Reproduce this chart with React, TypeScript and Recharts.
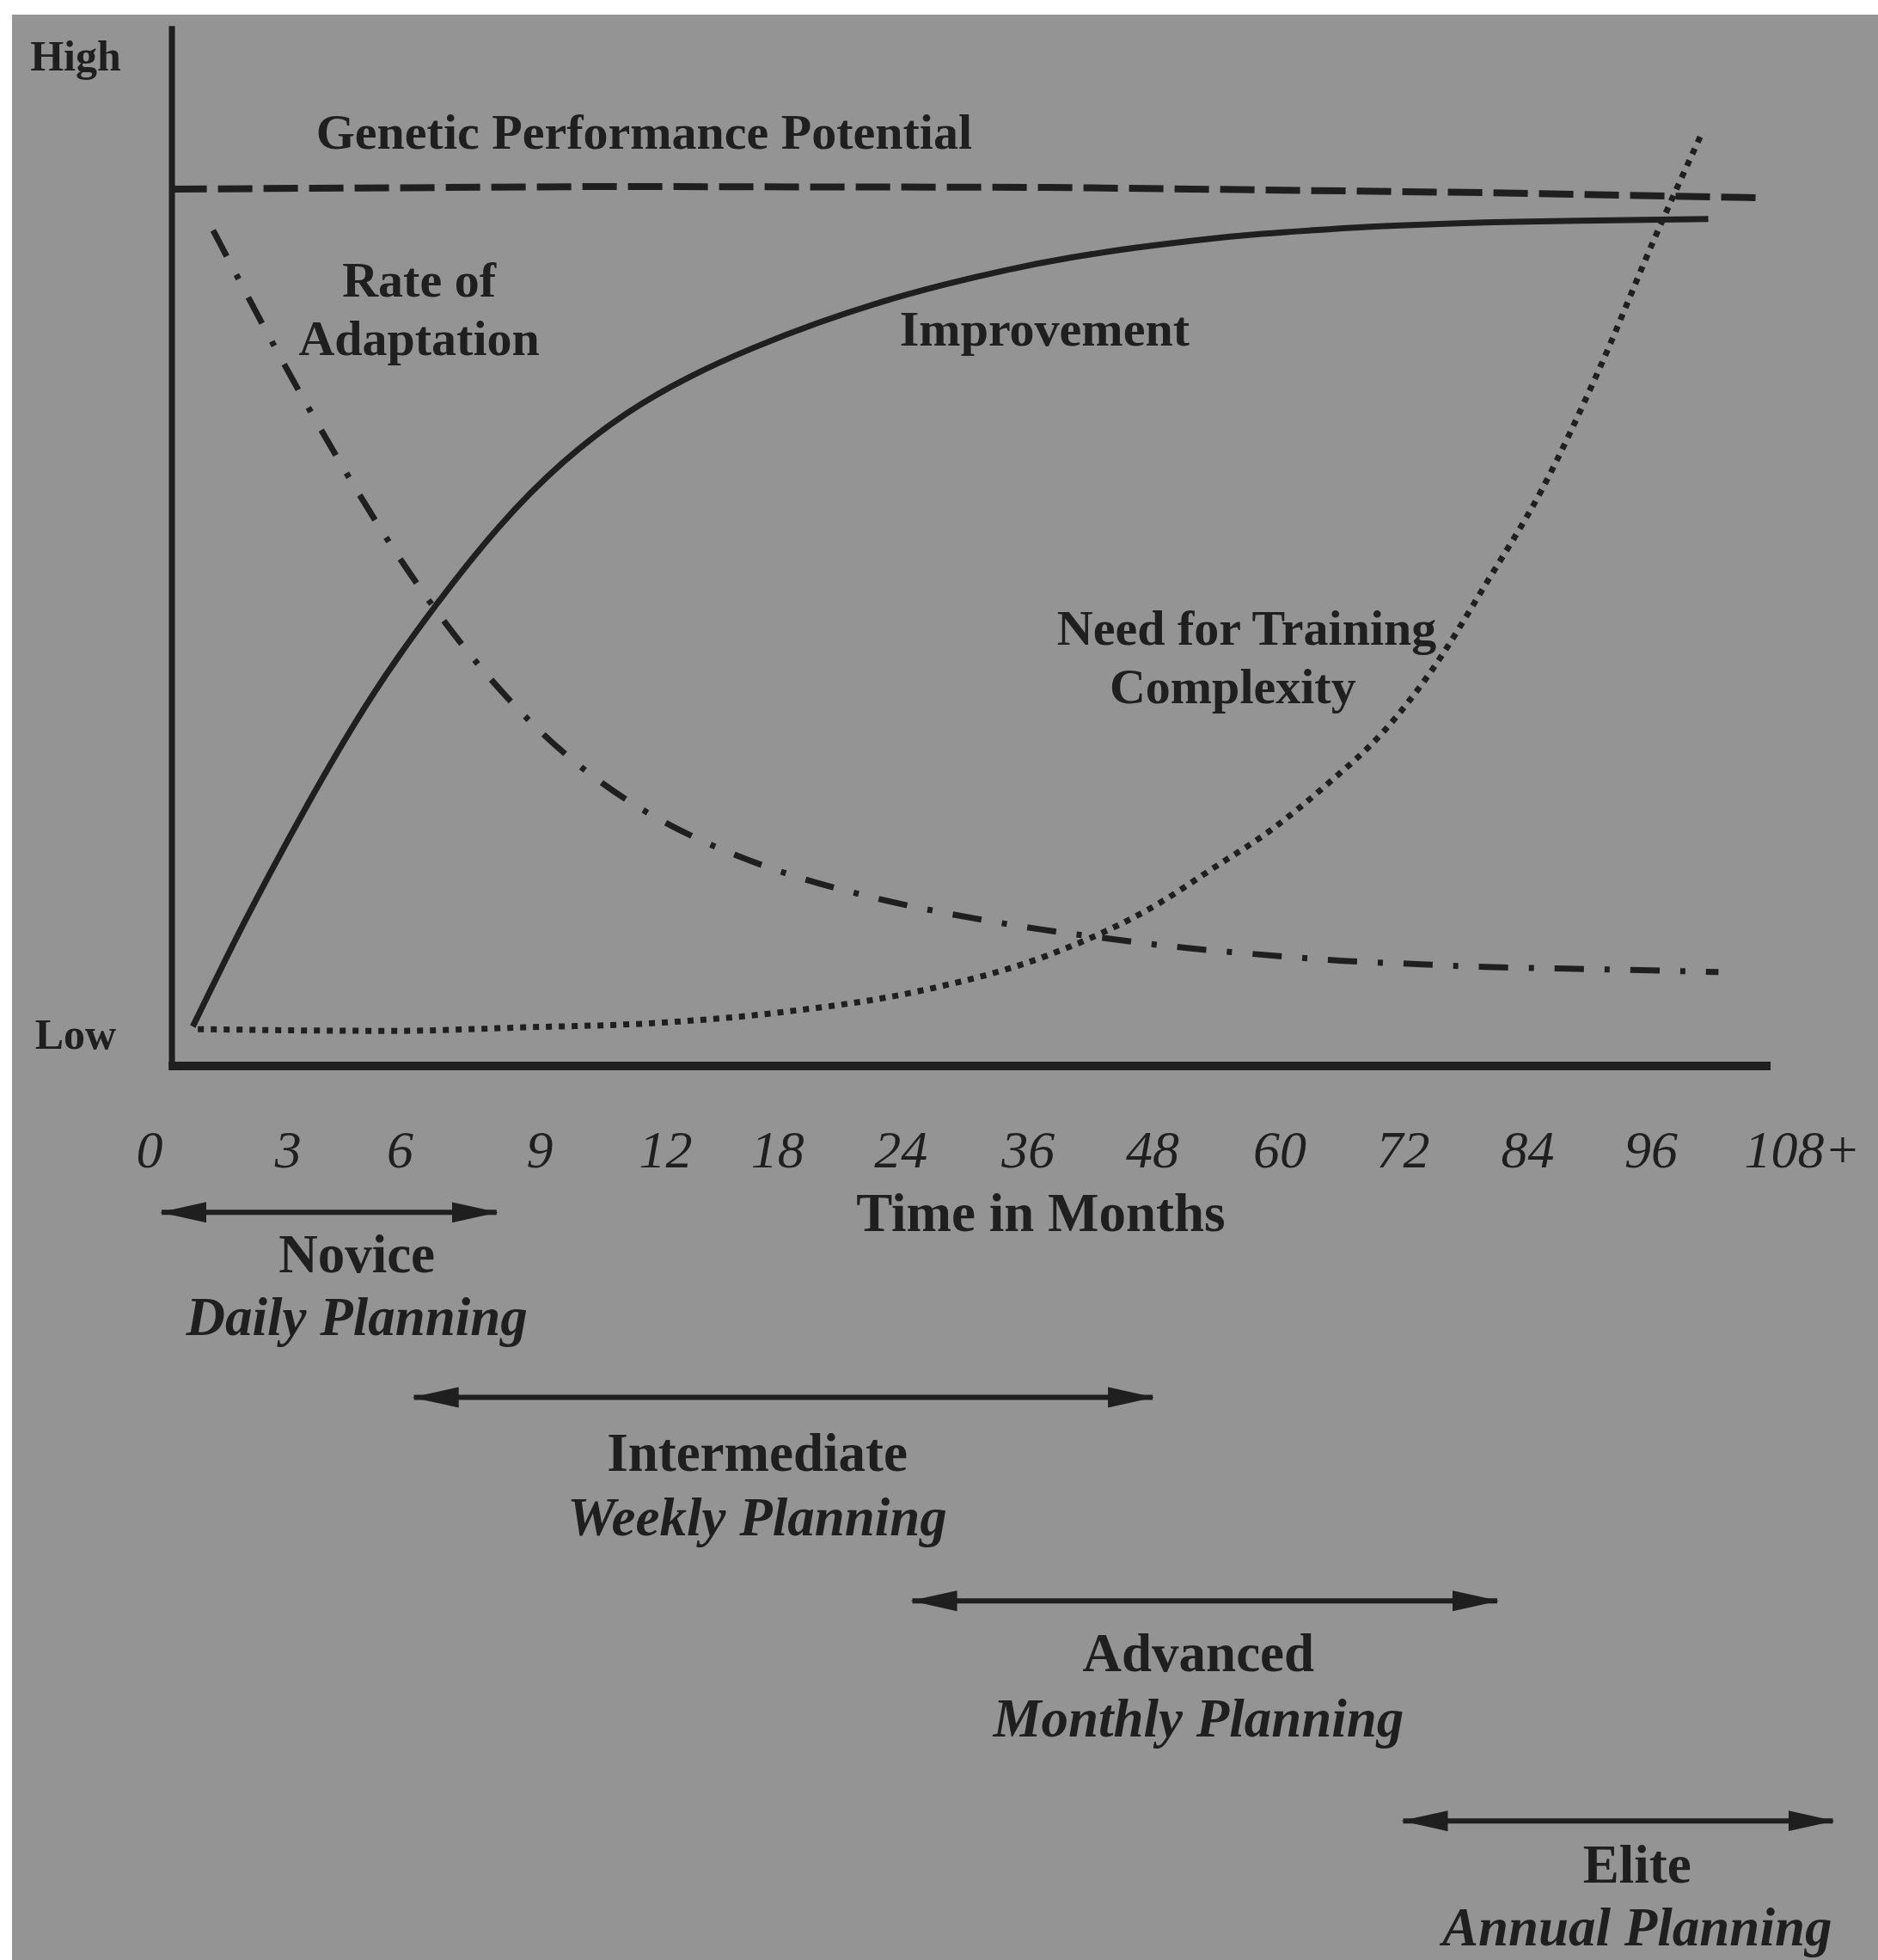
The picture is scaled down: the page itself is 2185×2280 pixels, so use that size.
import React from "react";
import {
  ComposedChart,
  Line,
  XAxis,
  YAxis,
  ReferenceLine,
  ReferenceDot,
} from "recharts";

const INK = "#1f1f1f";
const PAPER = "#949494";
const SERIF = '"Liberation Serif", "Times New Roman", serif';

// x = position along the month axis (tick index space, 0 = "0" ... 13 = "108+")
// y = performance level (0 = axis, 100 = genetic potential)
const monthLabels = ["0", "3", "6", "9", "12", "18", "24", "36", "48", "60", "72", "84", "96", "108+"];
const monthTicks = [0, 1.09, 1.97, 3.07, 4.06, 4.94, 5.91, 6.91, 7.89, 8.89, 9.86, 10.84, 11.81, 13];

const levelLabels = ["Low", "High"];
const levelTicks = [3.6, 115.2];

const potential = [
  { x: 0.18, y: 100 },
  { x: 3.56, y: 100.3 },
  { x: 7.07, y: 100.2 },
  { x: 10.52, y: 99.6 },
  { x: 12.7, y: 99.0 },
];

const improvement = [
  { x: 0.34, y: 4.5 },
  { x: 0.75, y: 16.5 },
  { x: 1.25, y: 30.0 },
  { x: 1.75, y: 42.2 },
  { x: 2.25, y: 52.5 },
  { x: 2.75, y: 61.5 },
  { x: 3.25, y: 68.8 },
  { x: 3.75, y: 74.4 },
  { x: 4.25, y: 78.6 },
  { x: 4.75, y: 81.9 },
  { x: 5.25, y: 84.7 },
  { x: 5.75, y: 87.1 },
  { x: 6.25, y: 89.1 },
  { x: 6.75, y: 90.8 },
  { x: 7.25, y: 92.2 },
  { x: 7.75, y: 93.3 },
  { x: 8.25, y: 94.2 },
  { x: 8.75, y: 94.9 },
  { x: 9.25, y: 95.4 },
  { x: 9.75, y: 95.8 },
  { x: 10.5, y: 96.2 },
  { x: 11.25, y: 96.4 },
  { x: 12.26, y: 96.6 },
];

const adaptation = [
  { x: 0.5, y: 95.3 },
  { x: 1.0, y: 81.6 },
  { x: 1.5, y: 68.8 },
  { x: 2.0, y: 57.2 },
  { x: 2.5, y: 47.3 },
  { x: 3.0, y: 39.2 },
  { x: 3.5, y: 32.9 },
  { x: 4.0, y: 28.2 },
  { x: 4.5, y: 24.7 },
  { x: 5.0, y: 22.0 },
  { x: 5.5, y: 19.9 },
  { x: 6.0, y: 18.2 },
  { x: 6.5, y: 16.8 },
  { x: 7.0, y: 15.6 },
  { x: 7.5, y: 14.6 },
  { x: 8.0, y: 13.7 },
  { x: 8.5, y: 13.0 },
  { x: 9.0, y: 12.4 },
  { x: 9.5, y: 11.9 },
  { x: 10.0, y: 11.6 },
  { x: 10.5, y: 11.3 },
  { x: 11.5, y: 11.0 },
  { x: 12.34, y: 10.7 },
];

const complexity = [
  { x: 0.38, y: 4.2 },
  { x: 1.91, y: 4.0 },
  { x: 2.94, y: 4.4 },
  { x: 3.98, y: 4.9 },
  { x: 5.01, y: 6.2 },
  { x: 6.04, y: 8.5 },
  { x: 7.08, y: 12.7 },
  { x: 7.91, y: 18.3 },
  { x: 8.36, y: 22.5 },
  { x: 8.81, y: 26.8 },
  { x: 9.26, y: 32.1 },
  { x: 9.71, y: 38.2 },
  { x: 10.07, y: 44.8 },
  { x: 10.52, y: 55.2 },
  { x: 10.95, y: 65.7 },
  { x: 11.4, y: 79.4 },
  { x: 11.85, y: 94.8 },
  { x: 12.21, y: 106.4 },
];

const curveLabels = [
  { text: "Genetic Performance Potential", x: 3.89, y: 104.6 },
  { text: "Rate of", x: 2.12, y: 87.75 },
  { text: "Adaptation", x: 2.12, y: 81.1 },
  { text: "Improvement", x: 7.04, y: 82.2 },
  { text: "Need for Training", x: 8.63, y: 48.0 },
  { text: "Complexity", x: 8.52, y: 41.4 },
];

const phases = [
  { name: "Novice", plan: "Daily Planning", from: 0.095, to: 2.73, arrowY: -16.7, labelX: 1.63, nameY: -23.5, planY: -30.7 },
  { name: "Intermediate", plan: "Weekly Planning", from: 2.08, to: 7.89, arrowY: -37.8, labelX: 4.78, nameY: -46.2, planY: -53.5 },
  { name: "Advanced", plan: "Monthly Planning", from: 6.0, to: 10.6, arrowY: -61.0, labelX: 8.25, nameY: -69.0, planY: -76.5 },
  { name: "Elite", plan: "Annual Planning", from: 9.86, to: 13.24, arrowY: -86.1, labelX: 11.7, nameY: -93.1, planY: -100.3 },
];

const axisTitle = { text: "Time in Months", x: 7.01, y: -18.8 };

const MonthTick = (props: any) => {
  const { x, y, payload } = props;
  const i = monthTicks.indexOf(payload.value);
  return (
    <text x={x} y={y} textAnchor="middle" fontFamily={SERIF} fontStyle="italic" fontSize={62} fill={INK}>
      {monthLabels[i]}
    </text>
  );
};

const LevelTick = (props: any) => {
  const { x, y, payload } = props;
  const i = levelTicks.indexOf(payload.value);
  return (
    <text x={x} y={y} dy={17} textAnchor="middle" fontFamily={SERIF} fontWeight="bold" fontSize={50} fill={INK}>
      {levelLabels[i]}
    </text>
  );
};

function textAt(key: string, x: number, y: number, text: string, size: number, italic = false) {
  return (
    <ReferenceDot
      key={key}
      x={x}
      y={y}
      r={0}
      ifOverflow="visible"
      shape={(p: any) => (
        <text
          x={p.cx}
          y={p.cy}
          textAnchor="middle"
          fontFamily={SERIF}
          fontWeight="bold"
          fontStyle={italic ? "italic" : "normal"}
          fontSize={size}
          fill={INK}
        >
          {text}
        </text>
      )}
    />
  );
}

export default function App() {
  return (
    <div style={{ position: "absolute", left: 0, top: 0, width: 2185, height: 2280, background: "#fff", overflow: "hidden" }}>
      <div style={{ position: "absolute", left: 14, top: 17, right: 0, bottom: 0, background: PAPER }} />
      <svg width={0} height={0} style={{ position: "absolute" }}>
        <defs>
          <marker
            id="arrowHead"
            markerUnits="userSpaceOnUse"
            markerWidth={54}
            markerHeight={26}
            refX={52}
            refY={13}
            orient="auto-start-reverse"
          >
            <path d="M0,1 L54,13 L0,25 Z" fill={INK} />
          </marker>
        </defs>
      </svg>
      <ComposedChart
        width={2185}
        height={2280}
        margin={{ top: 16, right: 88, bottom: 0, left: 0 }}
        style={{ position: "absolute", left: 0, top: 0 }}
      >
        <XAxis
          type="number"
          dataKey="x"
          domain={[0, 13]}
          ticks={monthTicks}
          interval={0}
          axisLine={false}
          tickLine={false}
          tickSize={0}
          tickMargin={118}
          height={1040}
          tick={<MonthTick />}
        />
        <YAxis
          type="number"
          dataKey="y"
          domain={[0, 120]}
          ticks={levelTicks}
          interval={0}
          axisLine={false}
          tickLine={false}
          tickSize={0}
          tickMargin={86}
          width={174}
          tick={<LevelTick />}
        />

        {/* axes drawn as in the figure */}
        <ReferenceLine
          segment={[{ x: 0.176, y: 0 }, { x: 0.176, y: 118.6 }]}
          stroke={INK}
          strokeWidth={7}
          ifOverflow="visible"
        />
        <ReferenceLine
          segment={[{ x: 0.15, y: 0 }, { x: 12.75, y: 0 }]}
          stroke={INK}
          strokeWidth={10}
          ifOverflow="visible"
        />

        <Line
          data={potential}
          dataKey="y"
          type="linear"
          stroke={INK}
          strokeWidth={8}
          strokeDasharray="40 13"
          dot={false}
          activeDot={false}
          isAnimationActive={false}
        />
        <Line
          data={improvement}
          dataKey="y"
          type="natural"
          stroke={INK}
          strokeWidth={7}
          dot={false}
          activeDot={false}
          isAnimationActive={false}
        />
        <Line
          data={adaptation}
          dataKey="y"
          type="natural"
          stroke={INK}
          strokeWidth={7}
          strokeDasharray="34 24 6 24"
          dot={false}
          activeDot={false}
          isAnimationActive={false}
        />
        <Line
          data={complexity}
          dataKey="y"
          type="monotone"
          stroke={INK}
          strokeWidth={7}
          strokeDasharray="7 8"
          dot={false}
          activeDot={false}
          isAnimationActive={false}
        />

        {curveLabels.map((c, i) => textAt(`c${i}`, c.x, c.y, c.text, 58))}
        {textAt("title", axisTitle.x, axisTitle.y, axisTitle.text, 63)}

        {phases.map((p) => (
          <ReferenceLine
            key={`a-${p.name}`}
            segment={[{ x: p.from, y: p.arrowY }, { x: p.to, y: p.arrowY }]}
            ifOverflow="visible"
            shape={(s: any) => (
              <line
                x1={s.x1}
                y1={s.y1}
                x2={s.x2}
                y2={s.y2}
                stroke={INK}
                strokeWidth={6}
                markerStart="url(#arrowHead)"
                markerEnd="url(#arrowHead)"
              />
            )}
          />
        ))}
        {phases.map((p) => textAt(`n-${p.name}`, p.labelX, p.nameY, p.name, 63))}
        {phases.map((p) => textAt(`p-${p.name}`, p.labelX, p.planY, p.plan, 63, true))}
      </ComposedChart>
    </div>
  );
}
